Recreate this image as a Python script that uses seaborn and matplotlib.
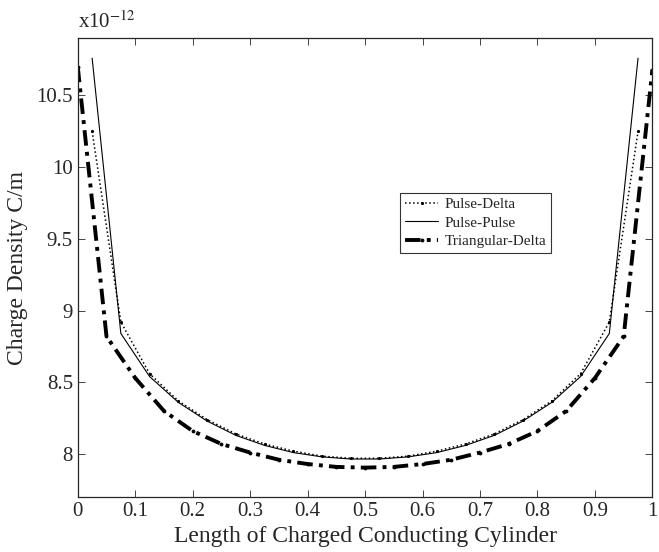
import numpy as np
import pandas as pd
import seaborn as sns
import matplotlib
matplotlib.use("Agg")
import matplotlib.pyplot as plt

# charge density values, in units of 1e-12 C/m
xPulse = [0.025, 0.075, 0.125, 0.175, 0.225, 0.275, 0.325, 0.375, 0.425, 0.475,
          0.525, 0.575, 0.625, 0.675, 0.725, 0.775, 0.825, 0.875, 0.925, 0.975]
pulseDelta = [10.25, 8.92, 8.56, 8.37, 8.24, 8.14, 8.07, 8.02, 7.985, 7.97,
              7.97, 7.985, 8.02, 8.07, 8.14, 8.24, 8.37, 8.56, 8.92, 10.25]
pulsePulse = [10.76, 8.84, 8.54, 8.36, 8.23, 8.13, 8.06, 8.01, 7.98, 7.965,
              7.965, 7.98, 8.01, 8.06, 8.13, 8.23, 8.36, 8.54, 8.84, 10.76]
xTri = [0.0, 0.05, 0.1, 0.15, 0.2, 0.25, 0.3, 0.35, 0.4, 0.45, 0.5,
        0.55, 0.6, 0.65, 0.7, 0.75, 0.8, 0.85, 0.9, 0.95, 1.0]
triDelta = [10.70, 8.82, 8.53, 8.30, 8.16, 8.07, 8.01, 7.96, 7.93, 7.91, 7.905,
            7.91, 7.93, 7.96, 8.01, 8.07, 8.16, 8.30, 8.53, 8.82, 10.68]

xTicks = [0, 0.1, 0.2, 0.3, 0.4, 0.5, 0.6, 0.7, 0.8, 0.9, 1]
xTickLabels = ["0", "0.1", "0.2", "0.3", "0.4", "0.5", "0.6", "0.7", "0.8", "0.9", "1"]
yTicks = [8, 8.5, 9, 9.5, 10, 10.5]
yTickLabels = ["8", "8.5", "9", "9.5", "10", "10.5"]

sns.set_style("ticks")
plt.rcParams["font.family"] = ["Liberation Serif", "DejaVu Serif"]
plt.rcParams["mathtext.fontset"] = "stix"

fig = plt.figure(figsize=(6.59, 5.52), dpi=100)
ax = fig.add_axes([0.118, 0.0996, 0.872, 0.8314])

dfPD = pd.DataFrame({"x": xPulse, "y": pulseDelta})
dfPP = pd.DataFrame({"x": xPulse, "y": pulsePulse})
dfTD = pd.DataFrame({"x": xTri, "y": triDelta})

sns.lineplot(data=dfPD, x="x", y="y", ax=ax, color="black", linewidth=1.1,
             linestyle=":", marker=".", markersize=3, markeredgecolor="black",
             label="Pulse-Delta")
sns.lineplot(data=dfPP, x="x", y="y", ax=ax, color="black", linewidth=0.8,
             linestyle="-", label="Pulse-Pulse")
sns.lineplot(data=dfTD, x="x", y="y", ax=ax, color="black", linewidth=2.8,
             linestyle=(0, (4, 1.6, 1, 1.6)), marker=".", markersize=4,
             markeredgecolor="black", label="Triangular-Delta")

ax.set_xlim(0, 1)
ax.set_ylim(7.7, 10.9)
ax.set_xticks(xTicks)
ax.set_xticklabels(xTickLabels)
ax.set_yticks(yTicks)
ax.set_yticklabels(yTickLabels)
ax.tick_params(direction="in", top=True, right=True, labelsize=15, length=5, width=0.6)
for s in ax.spines.values():
    s.set_linewidth(0.9)
    s.set_visible(True)

ax.set_xlabel("Length of Charged Conducting Cylinder", fontsize=17, labelpad=4)
ax.set_ylabel("Charge Density C/m", fontsize=17, labelpad=6)
ax.text(0.0, 1.012, r"x10$^{-12}$", transform=ax.transAxes, fontsize=15,
        ha="left", va="bottom")

leg = ax.legend(loc="upper left", bbox_to_anchor=(0.561, 0.662), fontsize=11,
                frameon=True, fancybox=False, edgecolor="black", handlelength=2.2,
                borderpad=0.3, labelspacing=0.3, handletextpad=0.4,
                borderaxespad=0)
leg.get_frame().set_linewidth(0.8)

fig.savefig("out.png", dpi=100)
